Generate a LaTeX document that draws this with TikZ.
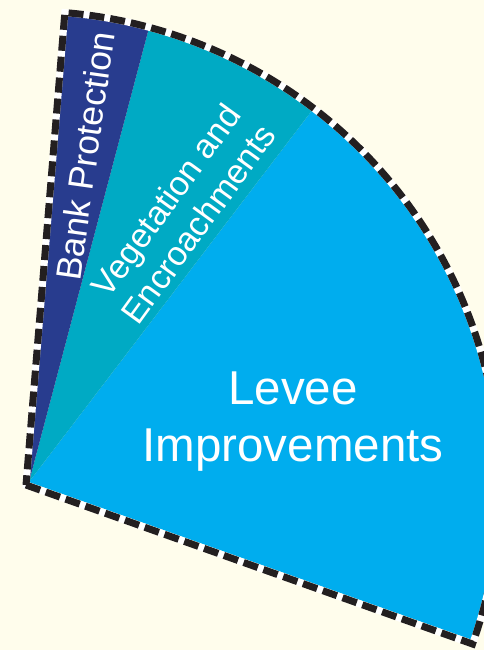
\documentclass[tikz,border=0pt]{standalone}
\usepackage{fontspec}
\setmainfont{Liberation Sans}
\usepackage{xcolor}
\usetikzlibrary{positioning}

\definecolor{cream}{RGB}{255,253,236}
\definecolor{bankblue}{RGB}{40,60,142}
\definecolor{vegteal}{RGB}{0,170,196}
\definecolor{leveeblue}{RGB}{0,173,238}
\definecolor{dashblack}{RGB}{35,31,32}

\tikzset{
  slice/.style={draw=none},
  rim white/.style={draw=white, line width=7pt, line join=miter},
  rim dash/.style={draw=dashblack, line width=7pt, dash pattern=on 15pt off 6pt, line join=miter},
  slice label/.style={text=white, inner sep=0pt, align=center}
}

\begin{document}
\begin{tikzpicture}[x=1pt,y=1pt]
\fill [cream] (0,0) rectangle (484,650);
\useasboundingbox (0,0) rectangle (484,650);
% slices
\coordinate (centre) at (29,168);
\fill [slice, leveeblue] (centre) -- +(-19.6:470) arc (-19.6:52.7:470) -- cycle;
\fill [slice, vegteal] (centre) -- +(52.7:470) arc (52.7:75.2:470) -- cycle;
\fill [slice, bankblue] (centre) -- +(75.2:470) arc (75.2:85.3:470) -- cycle;
% dashed rim
\coordinate (rim) at (26,165);
\draw [rim white] (rim) -- +(-19.6:474) arc (-19.6:85.3:474) -- cycle;
\draw [rim dash] (rim) -- +(-19.6:474) arc (-19.6:85.3:474) -- cycle;
% labels
\node [slice label, rotate=82, font=\fontsize{35.5}{40}\selectfont] (bank) at (85,494) {Bank Protection};
\node [slice label, rotate=54, font=\fontsize{34}{40}\selectfont] (veg) at (182,438) {Vegetation and\\Encroachments};
\node [slice label, font=\fontsize{47.5}{57}\selectfont] (levee) at (293,228) {Levee\\Improvements};
\end{tikzpicture}
\end{document}
